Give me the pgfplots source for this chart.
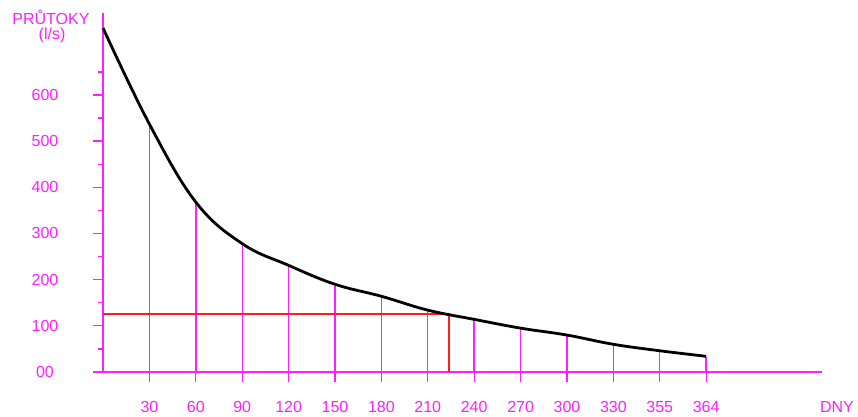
\documentclass[border=0pt]{standalone}
\usepackage{fontspec}
\setmainfont{Liberation Sans}
\usepackage{pgfplots}
\pgfplotsset{compat=1.18}
\definecolor{mag}{RGB}{255,30,255}
\definecolor{rline}{RGB}{255,30,30}
\begin{document}
\begin{tikzpicture}[x=1pt,y=1pt]
\path[use as bounding box] (0,0) rectangle (858,416);
\begin{axis}[
  at={(103pt,44pt)}, anchor=south west,
  scale only axis, width=719pt, height=359pt,
  xmin=0, xmax=15.496, ymin=0, ymax=777.5,
  axis x line*=bottom, axis y line*=left,
  axis line style={mag, line width=1.6pt},
  xtick={1,...,13},
  xticklabels={30,60,90,120,150,180,210,240,270,300,330,355,364},
  ytick={0,100,...,600},
  yticklabels={00,100,200,300,400,500,600},
  minor ytick={50,150,...,650},
  tick align=outside,
  major tick length=10pt, minor tick length=5pt,
  tick style={mag, line width=1.3pt},
  /pgf/number format/assume math mode=true,
  ticklabel style={font=\fontsize{16}{19}\selectfont, text=mag},
  xticklabel style={anchor=center, inner sep=0pt, yshift=-25pt},
  yticklabel style={anchor=center, xshift=-48pt},
  clip=false,
]
\addplot[ycomb, mag, line width=1.4pt, mark=none] coordinates {
 (1,536) (2,366) (3,277) (4,230) (5,189) (6,163) (7,133) (8,113) (9,94) (10,79) (11,59) (12,45) (13,33)
};
\addplot[rline, line width=1.4pt] coordinates {(0,125.5) (7.46,125.5) (7.46,0)};
\addplot[black, line width=2.8pt, smooth, tension=0.65] coordinates {
 (0,745) (1,537) (2,368) (3,278) (4,231) (5,190) (6,164) (7,134) (8,114) (9,95) (10,80) (11,60) (12,46) (13,34)
};
\end{axis}
\node[text=mag, font=\fontsize{16}{19}\selectfont, inner sep=0pt] at (51,399) {PRŮTOKY};
\node[text=mag, font=\fontsize{16}{19}\selectfont, inner sep=0pt] at (52,381) {(l/s)};
\node[text=mag, font=\fontsize{16}{19}\selectfont, inner sep=0pt] at (837,9) {DNY};
\end{tikzpicture}
\end{document}
